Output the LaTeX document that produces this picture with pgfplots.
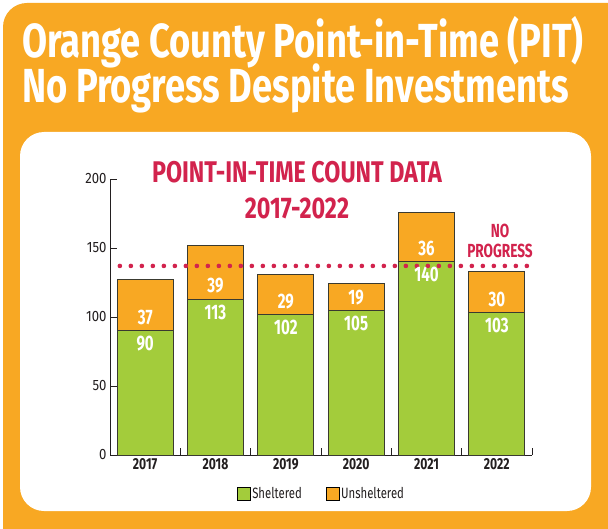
\documentclass[border=0pt]{standalone}
\usepackage{fontspec}
\setmainfont{Fira Sans}
\newfontfamily\cond{Fira Sans}[FakeStretch=0.72]
\newfontfamily\condt{Fira Sans}[FakeStretch=0.76]
\newfontfamily\condc{Fira Sans}[FakeStretch=0.78]
\newfontfamily\semicond{Fira Sans}[FakeStretch=0.88]
\usepackage{pgfplots}
\pgfplotsset{compat=1.18}
\usepackage{pgfplotstable}
\definecolor{bgor}{HTML}{F8A823}
\definecolor{baror}{HTML}{F8A823}
\definecolor{bargr}{HTML}{A3CC3B}
\definecolor{crim}{HTML}{D2234D}
\definecolor{edge}{HTML}{3A3A30}
\definecolor{txt}{HTML}{231F20}
\pgfplotstableread{
x s u
0 90 37
1 113 39
2 102 29
3 105 19
4 140 36
5 103 30
}\pitdata
\begin{document}
\begin{tikzpicture}[x=1bp,y=1bp]
\useasboundingbox (0,0) rectangle (608,-529);
\clip (0,0) rectangle (608,-529);
\fill[white] (0,0) rectangle (608,-529);
\fill[bgor, rounded corners=24bp] (3,-3) rectangle (640,-560);
\fill[white, rounded corners=24bp] (20,-132) rectangle (591,-511);
\node[anchor=base west, inner sep=0pt, text=white, font=\condt\bfseries\fontsize{48}{48}\selectfont] at (22,-58) {Orange County Point-in-Time (PIT)};
\node[anchor=base west, inner sep=0pt, text=white, font=\condt\bfseries\fontsize{48}{48}\selectfont] at (22,-103) {No Progress Despite Investments};
\coordinate (O) at (110,-455);
\begin{axis}[at={(O)}, anchor=south west, scale only axis,
  width=422bp, height=276bp,
  xmin=-0.5, xmax=5.5, ymin=0, ymax=200,
  axis x line*=bottom, axis y line*=left,
  axis line style={line width=0.9bp, txt},
  every tick/.style={txt, line width=0.9bp},
  tick align=inside, major tick length=7bp,
  ytick={0,50,...,200},
  yticklabel style={font=\semicond\fontsize{15}{15}\selectfont, text=txt},
  /pgf/number format/assume math mode=true,
  xtick={0.5,1.5,...,5.5}, xticklabels={},
  extra x ticks={0,1,2,3,4,5},
  extra x tick labels={2017,2018,2019,2020,2021,2022},
  extra x tick style={major tick length=0pt, tick label style={font=\condt\bfseries\fontsize{16}{16}\selectfont, text=txt}},
  legend columns=2,
  legend style={at={(0.501,-0.1395)}, anchor=center, draw=none, fill=none,
    font=\condt\fontsize{15}{15}\selectfont, text=txt,
    /tikz/every even column/.append style={column sep=22bp}},
  legend image code/.code={\fill[#1] (-3bp,-6.5bp) rectangle (10bp,6.5bp);},
  clip=false,
]
\addplot[ybar, bar width=56bp, bar shift=0pt, fill=baror, draw=edge, line width=0.8bp, forget plot]
  table[x=x, y expr=\thisrow{s}+\thisrow{u}] {\pitdata};
\addplot[ybar, bar width=56bp, bar shift=0pt, fill=bargr, draw=edge, line width=0.8bp, forget plot]
  table[x=x, y=s] {\pitdata};
\addplot[crim, line width=4.6bp, line cap=round, dash pattern=on 0bp off 11bp, forget plot]
  coordinates {(-0.36,137) (5.43,137)};
\addplot[only marks, mark=text, text mark={}, forget plot,
  nodes near coords, point meta=explicit,
  every node near coord/.append style={anchor=center, yshift=13bp, text=white, text opacity=1, font=\cond\bfseries\fontsize{21}{21}\selectfont}]
  table[x=x, y=s, meta=u] {\pitdata};
\addplot[only marks, mark=text, text mark={}, forget plot,
  nodes near coords, point meta=explicit,
  every node near coord/.append style={anchor=center, yshift=-13bp, text=white, text opacity=1, font=\cond\bfseries\fontsize{21}{21}\selectfont}]
  table[x=x, y=s, meta=s] {\pitdata};
\addlegendimage{fill=bargr}
\addlegendentry{Sheltered}
\addlegendimage{fill=baror}
\addlegendentry{Unsheltered}
\end{axis}
\node[anchor=base, inner sep=0pt, text=crim, font=\condc\bfseries\fontsize{30}{30}\selectfont] at (297,-183) {POINT-IN-TIME COUNT DATA};
\node[anchor=base, inner sep=0pt, text=crim, font=\condc\bfseries\fontsize{30}{30}\selectfont] at (297,-219) {2017-2022};
\node[anchor=base, inner sep=0pt, text=crim, font=\cond\bfseries\fontsize{19}{19}\selectfont] at (500,-238) {NO};
\node[anchor=base, inner sep=0pt, text=crim, font=\cond\bfseries\fontsize{19}{19}\selectfont] at (500,-257) {PROGRESS};
\end{tikzpicture}
\end{document}
